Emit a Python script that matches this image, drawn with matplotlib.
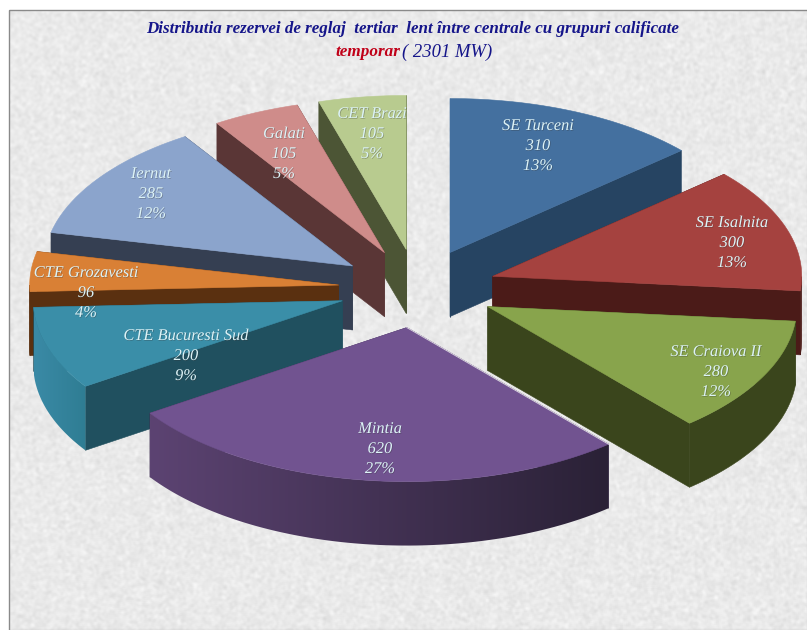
import numpy as np
import matplotlib
matplotlib.use("Agg")
import matplotlib.pyplot as plt
from matplotlib.colors import to_rgb
from matplotlib.patches import Polygon, Rectangle
import matplotlib.patheffects as pe

names = ["SE Turceni", "SE Isalnita", "SE Craiova II", "Mintia", "CTE Bucuresti Sud",
         "CTE Grozavesti", "Iernut", "Galati", "CET Brazi"]
values = [310, 300, 280, 620, 200, 96, 285, 105, 105]
percents = ["13%", "13%", "12%", "27%", "9%", "4%", "12%", "5%", "5%"]

top_colors = ["#44709f", "#a5423f", "#88a44c", "#715390", "#3a8ea8", "#d98035", "#8ba4cc", "#cf8c8a", "#b8cb8f"]
cut_colors = ["#264462", "#4b1b18", "#3a451c", "#3d2d50", "#20505f", "#5a3010", "#353f52", "#5a3636", "#4c5535"]
arc_left = ["#264462", "#4b1b18", "#3a451c", "#5c4372", "#3a8aa6", "#5a3010", "#353f52", "#5a3636", "#4c5535"]
arc_right = ["#264462", "#4b1b18", "#3a451c", "#2a2136", "#2f7d93", "#5a3010", "#353f52", "#5a3636", "#4c5535"]

label_xy = [(538, 146), (732, 243), (716, 372), (380, 449), (186, 356),
            (86, 293), (151, 194), (284, 154), (372, 134)]

CX, CY, RX, RY = 417.5, 288.5, 309, 154
EXPLODE = 0.256
DEPTH = 64

fig = plt.figure(figsize=(8.07, 6.30), dpi=100, facecolor="white")
ax = fig.add_axes([0, 0, 1, 1])
ax.set_xlim(0, 807)
ax.set_ylim(630, 0)
ax.axis("off")

# paper-like background: a fine deterministic grain, softened
frame = Rectangle((8.5, 9.5), 820, 640, fc="none", ec="#8a8a8a", lw=1.0, zorder=0.5)
ax.add_patch(frame)
yy, xx = np.mgrid[0:630, 0:807]
grain = np.sin(xx * 12.9898 + yy * 78.233) * 43758.5453
grain = grain - np.floor(grain)
kernel = np.array([1, 2, 3, 2, 1], float)
kernel /= kernel.sum()
grain = np.apply_along_axis(lambda r: np.convolve(r, kernel, mode="same"), 0, grain)
grain = np.apply_along_axis(lambda r: np.convolve(r, kernel, mode="same"), 1, grain)
paper = 0.915 + (grain - grain.mean()) * 0.20
bg = ax.imshow(paper, cmap="gray", vmin=0, vmax=1, extent=(0, 807, 630, 0), aspect="auto",
               interpolation="bilinear", zorder=0)
bg.set_clip_path(Rectangle((8.5, 9.5), 820, 640, transform=ax.transData))

total = sum(values)
edges = np.concatenate([[0], np.cumsum(values)]) / total * 2 * np.pi
order = []
for i in range(len(values)):
    mid = (edges[i] + edges[i + 1]) / 2
    ax_x = CX + EXPLODE * RX * np.sin(mid)
    ax_y = CY - EXPLODE * RY * np.cos(mid)
    order.append((ax_y, i, ax_x))
order.sort()

z = 1
for ay, i, ax_ in order:
    t = np.linspace(edges[i], edges[i + 1], 160)
    xs = ax_ + RX * np.sin(t)
    ys = ay - RY * np.cos(t)
    # the two cut faces
    for k in (0, -1):
        quad = [(ax_, ay), (xs[k], ys[k]), (xs[k], ys[k] + DEPTH), (ax_, ay + DEPTH)]
        ax.add_patch(Polygon(quad, closed=True, fc=cut_colors[i], ec=cut_colors[i], lw=0.4, zorder=z))
    z += 1
    # the outer curved side, only where it faces the viewer
    front = np.cos(t) < 0
    if front.any():
        fx, fy = xs[front], ys[front]
        outline = list(zip(fx, fy)) + list(zip(fx[::-1], fy[::-1] + DEPTH))
        if arc_left[i] == arc_right[i]:
            ax.add_patch(Polygon(outline, closed=True, fc=arc_left[i], ec=arc_left[i], lw=0.4, zorder=z))
        else:
            c0, c1 = np.array(to_rgb(arc_left[i])), np.array(to_rgb(arc_right[i]))
            ramp = np.linspace(0, 1, 256)[None, :, None]
            img = c0[None, None, :] + (c1 - c0)[None, None, :] * ramp
            im = ax.imshow(img, extent=(fx.min(), fx.max(), (fy + DEPTH).max(), fy.min()),
                           aspect="auto", interpolation="bilinear", zorder=z)
            im.set_clip_path(Polygon(outline, closed=True, transform=ax.transData))
    z += 1
    pts = [(ax_, ay)] + list(zip(xs, ys))
    ax.add_patch(Polygon(pts, closed=True, fc=top_colors[i], ec=top_colors[i], lw=0.4, zorder=z))
    if names[i] == "Mintia":
        ax.plot([ax_, xs[0]], [ay, ys[0]], color="#d8d2de", lw=0.7, zorder=z)
    z += 1

ax.set_xlim(0, 807)
ax.set_ylim(630, 0)

serif = "Liberation Serif"
for i, (lx, ly) in enumerate(label_xy):
    for dy, s in zip((-20, 0, 20), (names[i], str(values[i]), percents[i])):
        ax.text(lx, ly + dy, s, ha="center", va="center", family=serif, style="italic",
                fontsize=11.8, color="#dcf2f6", zorder=z + 1,
                path_effects=[pe.withSimplePatchShadow(offset=(0.5, -0.5), shadow_rgbFace="#333333", alpha=0.35)])

ax.text(413, 29, "Distributia rezervei de reglaj  tertiar  lent între centrale cu grupuri calificate",
        ha="center", va="center", family=serif, style="italic", weight="bold", fontsize=12.25,
        color="#15158a", zorder=z + 1)
ax.text(400, 52, "temporar", ha="right", va="center", family=serif, style="italic", weight="bold",
        fontsize=12.3, color="#c00018", zorder=z + 1)
ax.text(402, 52, "( 2301 MW)", ha="left", va="center", family=serif, style="italic",
        fontsize=13.4, color="#15158a", zorder=z + 1)

fig.savefig("out.png", dpi=100, facecolor="white")
